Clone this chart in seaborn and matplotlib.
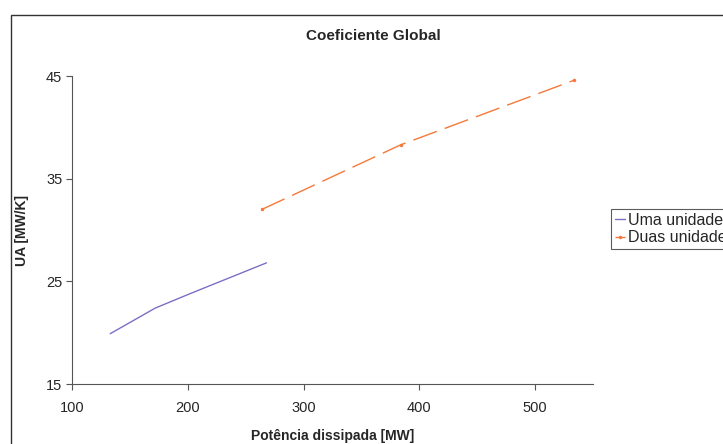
import pandas as pd
import matplotlib
matplotlib.use("Agg")
import matplotlib.pyplot as plt
import seaborn as sns
from matplotlib.patches import Rectangle

# data
uma_x = [133, 172, 202, 235, 268]
uma_y = [19.9, 22.4, 23.8, 25.3, 26.8]
duas_x = [264, 384, 534]
duas_y = [32.0, 38.3, 44.6]
x_ticks = [100, 200, 300, 400, 500]
y_ticks = [15, 25, 35, 45]

sns.set_style("white")
plt.rcParams['font.family'] = ['Liberation Sans', 'DejaVu Sans']

df = pd.concat([
    pd.DataFrame({'x': uma_x, 'y': uma_y, 'serie': 'Uma unidade'}),
    pd.DataFrame({'x': duas_x, 'y': duas_y, 'serie': 'Duas unidades'}),
])

fig = plt.figure(figsize=(7.23, 4.44), dpi=100)
ax = fig.add_axes([72 / 723, 1 - 384 / 444, (593 - 72) / 723, (384 - 76) / 444])

sns.lineplot(data=df[df.serie == 'Uma unidade'], x='x', y='y', ax=ax,
             color='#7a70c4', linewidth=1.0, label='Uma unidade', sort=False)
sns.lineplot(data=df[df.serie == 'Duas unidades'], x='x', y='y', ax=ax,
             color='#f5793a', linewidth=1.0, dashes=(18, 6), marker='o',
             markersize=2.5, markeredgewidth=0, label='Duas unidades', sort=False)

ax.set_xlim(100, 550)
ax.set_ylim(15, 45)
ax.set_xticks(x_ticks)
ax.set_yticks(y_ticks)
ax.tick_params(axis='both', direction='out', length=4, width=0.8,
               color='#555555', labelsize=10.5, bottom=True, left=True)
ax.tick_params(axis='x', pad=8)
ax.tick_params(axis='y', pad=3)
for side in ['top', 'right']:
    ax.spines[side].set_visible(False)
for side in ['left', 'bottom']:
    ax.spines[side].set_color('#555555')
    ax.spines[side].set_linewidth(0.8)

ax.set_xlabel('Potência dissipada [MW]', fontsize=10, fontweight='bold', labelpad=10)
ax.set_ylabel('UA [MW/K]', fontsize=10, fontweight='bold', labelpad=12)
fig.text(373 / 723, 1 - 36 / 444, 'Coeficiente Global', ha='center', va='center',
         fontsize=11, fontweight='bold')

ax.get_legend().remove()
handles, labels = ax.get_legend_handles_labels()
leg = fig.legend(handles, labels, loc='upper left',
                 bbox_to_anchor=(611 / 723, 1 - 209 / 444), fontsize=11.5,
                 frameon=True, fancybox=False, handlelength=0.6,
                 handletextpad=0.2, borderpad=0.25, labelspacing=0.15,
                 borderaxespad=0)
leg.get_frame().set_edgecolor('#333333')
leg.get_frame().set_linewidth(0.8)

# outer chart border
fig.patches.append(Rectangle((11 / 723, -0.1), 1.0, 1 - 15 / 444 + 0.1,
                             transform=fig.transFigure, fill=False,
                             edgecolor='#333333', linewidth=1.0))

fig.savefig('out.png', dpi=100)
